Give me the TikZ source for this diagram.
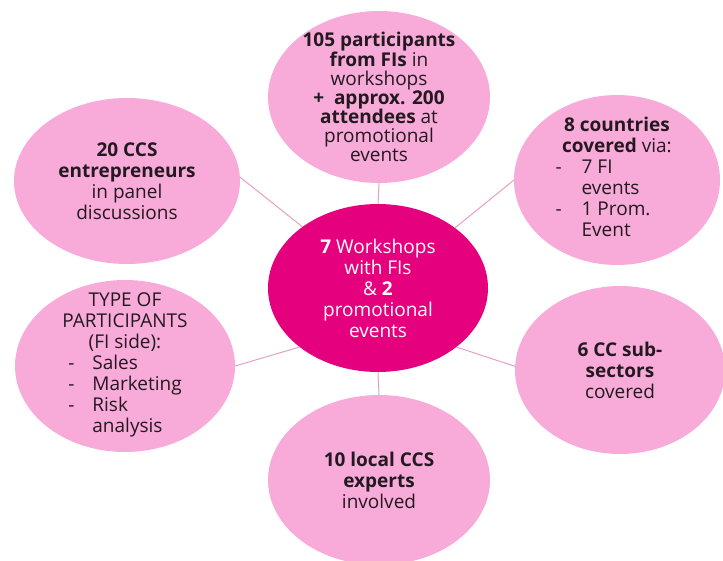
\documentclass[tikz,border=0pt]{standalone}
\usepackage{fontspec}
\setmainfont{Open Sans}
\usetikzlibrary{shapes.geometric}
\definecolor{pnk}{RGB}{248,170,216}
\definecolor{mag}{RGB}{229,0,126}
\definecolor{lnk}{RGB}{228,160,198}
\definecolor{ink}{RGB}{35,25,32}

\begin{document}
\begin{tikzpicture}[x=1pt, y=-1pt,
	bubble/.style = {shape=ellipse, fill=pnk, text=ink, align=center,
		inner sep=-20pt, outer sep=0pt, font=\fontsize{19}{21}\selectfont},
	hub/.style = {bubble, fill=mag, text=white},
	link/.style = {draw=lnk, line width=1pt}]
	\useasboundingbox (0,0) rectangle (723,560);
	\clip (0,0) rectangle (723,560);
	\node[hub, minimum width=220pt, minimum height=168pt] (hub) at (378,288)
		{\textbf{7} Workshops\\ with FIs\\ \& \textbf{2}\\ promotional\\ events};
	\node[bubble, minimum width=222pt, minimum height=172pt,
		font=\fontsize{19}{19}\selectfont] (fis) at (379,97)
		{\textbf{105 participants}\\ \textbf{from FIs} in\\ workshops\\
		 \textbf{+\ \ approx. 200}\\ \textbf{attendees} at\\ promotional\\ events};
	\node[bubble, minimum width=226pt, minimum height=166pt] (ccs) at (127,181)
		{\textbf{20 CCS}\\ \textbf{entrepreneurs}\\ in panel\\ discussions};
	\node[bubble, minimum width=206pt, minimum height=170pt] (countries) at (617,180)
		{\textbf{8 countries}\\ \textbf{covered} via:\\
		 \hspace*{-28pt}\begin{tabular}[t]{@{}l@{\hspace{20pt}}l@{}}
		 - & 7 FI\\ & events\\ - & 1 Prom.\\ & Event\end{tabular}};
	\node[bubble, minimum width=220pt, minimum height=172pt] (types) at (125,366)
		{TYPE OF\\ PARTICIPANTS\\ (FI side):\\
		 \begin{tabular}[t]{@{}l@{\hspace{18pt}}l@{}}
		 - & Sales\\ - & Marketing\\ - & Risk\\ & analysis\end{tabular}};
	\node[bubble, minimum width=222pt, minimum height=170pt] (experts) at (379,480)
		{\textbf{10 local CCS}\\ \textbf{experts}\\ involved};
	\node[bubble, minimum width=210pt, minimum height=168pt] (sectors) at (620,370)
		{\textbf{6 CC sub-}\\ \textbf{sectors}\\ covered};
	\draw[link] (hub.north) -- (fis.south);
	\draw[link] (hub.141) -- (ccs.2);
	\draw[link] (hub.38) -- (countries.180);
	\draw[link] (hub.217) -- (types.0);
	\draw[link] (hub.south) -- (experts.north);
	\draw[link] (hub.-37) -- (sectors.178);
\end{tikzpicture}
\end{document}
